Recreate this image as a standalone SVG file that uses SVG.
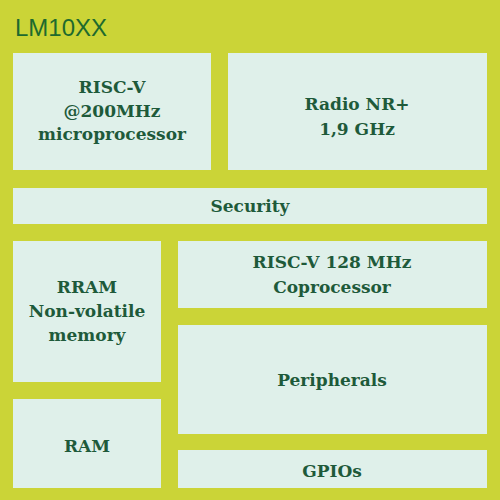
<svg xmlns="http://www.w3.org/2000/svg" width="500" height="500" viewBox="0 0 500 500">
<style>
.b{fill:#dff0ea}
.t{font-family:"DejaVu Serif","Liberation Serif",serif;font-size:17px;font-weight:bold;fill:#1e5a3a;text-anchor:middle}
.h{font-family:"Liberation Sans",Arial,sans-serif;font-size:24px;fill:#1e6a2e}
</style>
<rect width="500" height="500" fill="#cbd437"/>
<text class="h" x="15" y="36">LM10XX</text>
<g id="cpu"><rect class="b" x="13" y="53" width="198" height="117"/><text class="t" x="112" y="93">RISC-V</text><text class="t" x="112" y="117">@200MHz</text><text class="t" x="112" y="140">microprocessor</text></g>
<g id="radio"><rect class="b" x="228" y="53" width="259" height="117"/><text class="t" x="357" y="110">Radio NR+</text><text class="t" x="357" y="135">1,9 GHz</text></g>
<g id="security"><rect class="b" x="13" y="188" width="474" height="36"/><text class="t" x="250" y="212">Security</text></g>
<g id="rram"><rect class="b" x="13" y="241" width="148" height="141"/><text class="t" x="87" y="293">RRAM</text><text class="t" x="87" y="317">Non-volatile</text><text class="t" x="87" y="341">memory</text></g>
<g id="ram"><rect class="b" x="13" y="399" width="148" height="89"/><text class="t" x="87" y="452">RAM</text></g>
<g id="coproc"><rect class="b" x="178" y="241" width="309" height="67"/><text class="t" x="332" y="268">RISC-V 128 MHz</text><text class="t" x="332" y="293">Coprocessor</text></g>
<g id="periph"><rect class="b" x="178" y="325" width="309" height="109"/><text class="t" x="332" y="386">Peripherals</text></g>
<g id="gpio"><rect class="b" x="178" y="450" width="309" height="38"/><text class="t" x="332" y="477">GPIOs</text></g>
<g id="connectors"/>
</svg>
